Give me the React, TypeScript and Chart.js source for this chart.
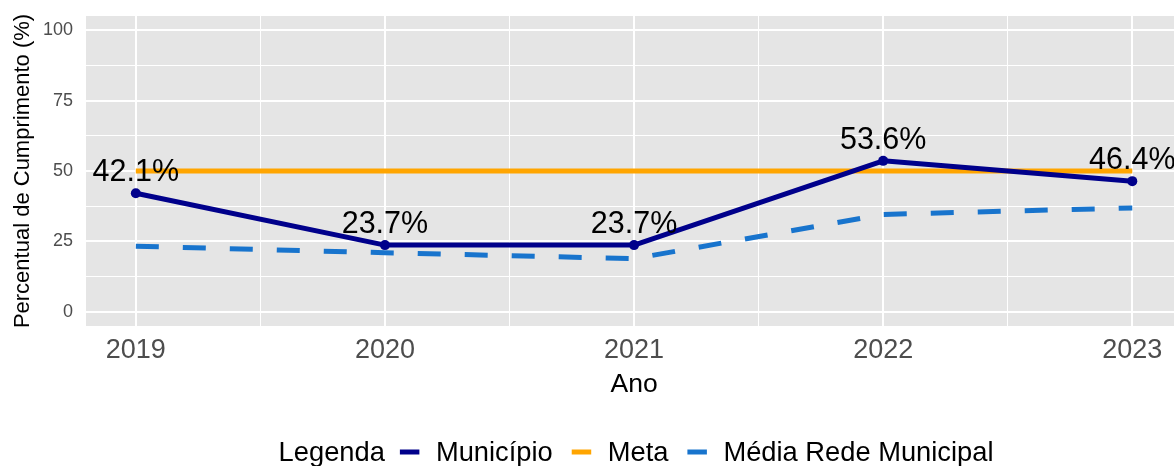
import { useEffect, useRef } from 'react';
import { Chart, registerables } from 'chart.js';

Chart.register(...registerables);

const YEARS = [2019, 2020, 2021, 2022, 2023];
const MUNICIPIO = [42.1, 23.7, 23.7, 53.6, 46.4];
const META = [50, 50, 50, 50, 50];
const MEDIA_REDE = [23.3, 21.0, 18.9, 34.6, 36.9];
const Y_TICKS = [0, 25, 50, 75, 100];
const Y_MINOR = [12.5, 37.5, 62.5, 87.5];
const X_MINOR = [2019.5, 2020.5, 2021.5, 2022.5];
const SERIES_NAMES = ['Município', 'Meta', 'Média Rede Municipal'];
const LEGEND_TITLE = 'Legenda';
const X_TITLE = 'Ano';
const Y_TITLE = 'Percentual de Cumprimento (%)';

const FONT = '"Liberation Sans", Arial, Helvetica, sans-serif';
const COLORS = ['#00008B', '#FFA500', '#1874CD'];
const DASH = [23, 24];
const PANEL_BG = '#E5E5E5';

const toPoints = (vals: number[]) => YEARS.map((x, i) => ({ x, y: vals[i] }));

export default function App() {
  const ref = useRef<HTMLCanvasElement | null>(null);

  useEffect(() => {
    if (!ref.current) return;

    const panelBg = {
      id: 'panelBg',
      beforeDraw(chart: any) {
        const { ctx, chartArea: a } = chart;
        ctx.save();
        ctx.fillStyle = PANEL_BG;
        ctx.fillRect(a.left, a.top, a.right - a.left, a.bottom - a.top);
        ctx.restore();
      },
    };

    const valueLabels = {
      id: 'valueLabels',
      afterDatasetsDraw(chart: any) {
        const { ctx } = chart;
        const meta = chart.getDatasetMeta(0);
        ctx.save();
        ctx.font = `30.5px ${FONT}`;
        ctx.fillStyle = '#000000';
        ctx.textAlign = 'center';
        ctx.textBaseline = 'alphabetic';
        meta.data.forEach((el: any, i: number) => {
          ctx.fillText(`${MUNICIPIO[i].toFixed(1)}%`, el.x, el.y - 12);
        });
        ctx.restore();
      },
    };

    const titlesLegend = {
      id: 'titlesLegend',
      afterDraw(chart: any) {
        const { ctx, chartArea: a } = chart;
        const xs = chart.scales.x;
        ctx.save();
        // x title
        ctx.fillStyle = '#000000';
        ctx.font = `26.5px ${FONT}`;
        ctx.textAlign = 'center';
        ctx.textBaseline = 'alphabetic';
        const midX = xs.getPixelForValue((YEARS[0] + YEARS[YEARS.length - 1]) / 2);
        ctx.fillText(X_TITLE, midX, 391.5);
        // y title
        ctx.save();
        ctx.font = `22px ${FONT}`;
        ctx.translate(28.5, (a.top + a.bottom) / 2);
        ctx.rotate(-Math.PI / 2);
        ctx.textAlign = 'center';
        ctx.fillText(Y_TITLE, 0, 0);
        ctx.restore();
        // legend
        ctx.font = `27.3px ${FONT}`;
        ctx.textAlign = 'left';
        const keyW = 19.5;
        const gapTitle = 15;
        const gapKeyText = 16.5;
        const gapItem = 19;
        const titleW = ctx.measureText(LEGEND_TITLE).width;
        const itemWs = SERIES_NAMES.map((n) => ctx.measureText(n).width);
        let total = titleW + gapTitle;
        itemWs.forEach((w, i) => {
          total += keyW + gapKeyText + w + (i < itemWs.length - 1 ? gapItem : 0);
        });
        let x = midX - total / 2 + 2;
        const baseY = 461;
        const keyY = 452;
        ctx.fillText(LEGEND_TITLE, x, baseY);
        x += titleW + gapTitle;
        SERIES_NAMES.forEach((name, i) => {
          ctx.save();
          ctx.strokeStyle = COLORS[i];
          ctx.lineWidth = 5;
          ctx.lineCap = 'butt';
          if (i === 2) ctx.setLineDash(DASH);
          ctx.beginPath();
          ctx.moveTo(x, keyY);
          ctx.lineTo(x + keyW, keyY);
          ctx.stroke();
          ctx.restore();
          x += keyW + gapKeyText;
          ctx.fillStyle = '#000000';
          ctx.fillText(name, x, baseY);
          x += itemWs[i] + gapItem;
        });
        ctx.restore();
      },
    };

    const chart = new Chart(ref.current, {
      type: 'line',
      data: {
        datasets: [
          {
            label: SERIES_NAMES[0],
            data: toPoints(MUNICIPIO),
            borderColor: COLORS[0],
            backgroundColor: COLORS[0],
            borderWidth: 5,
            pointRadius: 5,
            pointBorderWidth: 0,
            pointBackgroundColor: COLORS[0],
            borderCapStyle: 'butt',
            borderJoinStyle: 'round',
            tension: 0,
          },
          {
            label: SERIES_NAMES[1],
            data: toPoints(META),
            borderColor: COLORS[1],
            backgroundColor: COLORS[1],
            borderWidth: 5,
            pointRadius: 0,
            borderCapStyle: 'butt',
            tension: 0,
          },
          {
            label: SERIES_NAMES[2],
            data: toPoints(MEDIA_REDE),
            borderColor: COLORS[2],
            backgroundColor: COLORS[2],
            borderWidth: 5,
            borderDash: DASH,
            pointRadius: 0,
            borderCapStyle: 'butt',
            borderJoinStyle: 'round',
            tension: 0,
          },
        ],
      },
      options: {
        animation: false,
        responsive: false,
        maintainAspectRatio: false,
        layout: { autoPadding: false, padding: { top: 16, left: 0, right: 0, bottom: 0 } },
        plugins: {
          legend: { display: false },
          tooltip: { enabled: false },
          title: { display: false },
        },
        scales: {
          x: {
            type: 'linear',
            min: 2018.8,
            max: 2023.1675,
            afterFit: (s: any) => {
              s.height = 140;
              s.paddingLeft = 0;
              s.paddingRight = 0;
            },
            afterBuildTicks: (s: any) => {
              s.ticks = [...YEARS, ...X_MINOR].sort((p, q) => p - q).map((v) => ({ value: v }));
            },
            grid: {
              color: '#FFFFFF',
              lineWidth: (c: any) => (YEARS.includes(c.tick?.value) ? 2 : 1),
              drawTicks: false,
            },
            border: { display: false },
            ticks: {
              autoSkip: false,
              maxRotation: 0,
              padding: 8,
              color: '#4D4D4D',
              font: { family: FONT, size: 27 },
              callback: (v: any) => (YEARS.includes(Number(v)) ? String(v) : ''),
            },
          },
          y: {
            type: 'linear',
            min: -5,
            max: 105,
            afterFit: (s: any) => {
              s.width = 86;
              s.paddingTop = 0;
              s.paddingBottom = 0;
            },
            afterBuildTicks: (s: any) => {
              s.ticks = [...Y_TICKS, ...Y_MINOR].sort((p, q) => p - q).map((v) => ({ value: v }));
            },
            grid: {
              color: '#FFFFFF',
              lineWidth: (c: any) => (Y_TICKS.includes(c.tick?.value) ? 2 : 1),
              drawTicks: false,
            },
            border: { display: false },
            ticks: {
              autoSkip: false,
              padding: 13,
              color: '#4D4D4D',
              font: { family: FONT, size: 18 },
              callback: (v: any) => (Y_TICKS.includes(Number(v)) ? String(v) : ''),
            },
          },
        },
      },
      plugins: [panelBg, valueLabels, titlesLegend],
    });

    return () => chart.destroy();
  }, []);

  return (
    <div style={{ position: 'fixed', left: 0, top: 0, width: 1174, height: 466, overflow: 'hidden', background: '#FFFFFF' }}>
      <canvas ref={ref} width={1174} height={466} style={{ display: 'block' }} />
    </div>
  );
}
